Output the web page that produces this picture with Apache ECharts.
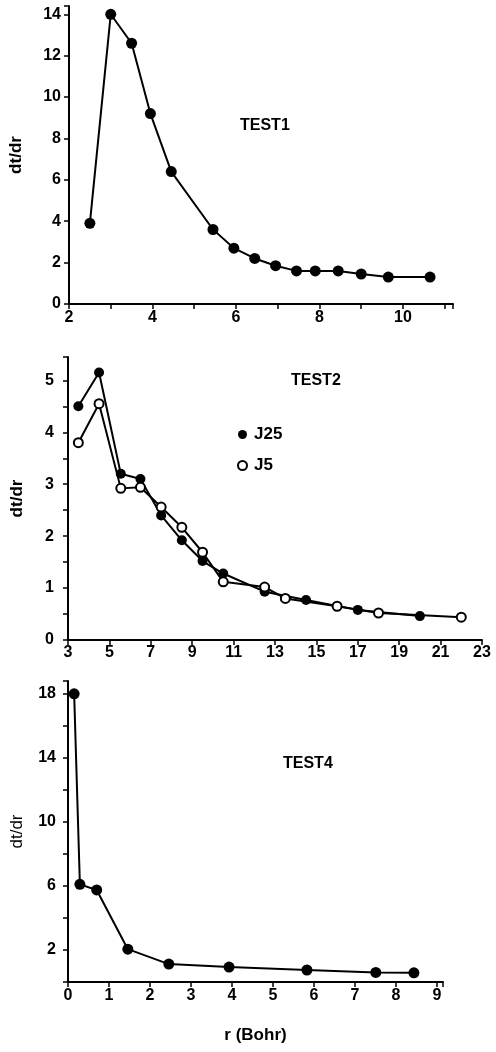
<!DOCTYPE html>
<html><head><meta charset="utf-8">
<script src="https://cdn.jsdelivr.net/npm/echarts@6/dist/echarts.min.js"></script>
<style>html,body{margin:0;padding:0;background:#fff}#c{width:496px;height:1052px}</style>
</head><body><div id="c"></div>
<script>
// TEST1
const test1R = [2.5, 3.0, 3.5, 3.95, 4.45, 5.45, 5.95, 6.45, 6.95, 7.45, 7.9, 8.45, 9.0, 9.65, 10.65];
const test1D = [3.9, 14.0, 12.6, 9.2, 6.4, 3.6, 2.7, 2.2, 1.85, 1.6, 1.6, 1.6, 1.45, 1.3, 1.3];
// TEST2
const j25R = [3.5, 4.5, 5.55, 6.5, 7.5, 8.5, 9.5, 10.5, 12.5, 14.5, 17, 20];
const j25D = [4.5, 5.15, 3.2, 3.1, 2.4, 1.92, 1.52, 1.28, 0.93, 0.77, 0.58, 0.46];
const j5R = [3.5, 4.5, 5.55, 6.5, 7.5, 8.5, 9.5, 10.5, 12.5, 13.5, 16, 18, 22];
const j5D = [3.8, 4.55, 2.92, 2.94, 2.56, 2.17, 1.69, 1.12, 1.02, 0.8, 0.65, 0.52, 0.44];
// TEST4
const test4R = [0.15, 0.29, 0.7, 1.46, 2.46, 3.93, 5.83, 7.51, 8.44];
const test4D = [18.0, 6.1, 5.75, 2.05, 1.12, 0.93, 0.75, 0.6, 0.57];

const panelTitles = ['TEST1', 'TEST2', 'TEST4'];
const seriesNames = ['J25', 'J5'];
const yName = 'dt/dr';
const xName = 'r (Bohr)';

const pairs = (xs, ys) => xs.map((x, i) => [x, ys[i]]);
const FONT = 'Liberation Sans, Arial, sans-serif';
const lbl = {color: '#000', fontFamily: FONT, fontWeight: 'bold', fontSize: 16};
const isInt = v => Math.abs(v - Math.round(v)) < 1e-6;

function axisBase(extra) {
  return Object.assign({
    type: 'value',
    axisLine: {show: true, onZero: false, lineStyle: {color: '#000', width: 2}},
    axisTick: {show: true, inside: false, length: 5, lineStyle: {color: '#000', width: 1.5}},
    splitLine: {show: false},
  }, extra);
}

const chart = echarts.init(document.getElementById('c'));
chart.setOption({
  backgroundColor: '#fff',
  animation: false,
  grid: [
    {left: 68, right: 43, top: 6, bottom: 748},
    {left: 68, right: 14, top: 357, bottom: 412},
    {left: 68, right: 53, top: 681, bottom: 70}
  ],
  xAxis: [
    axisBase({gridIndex: 0, min: 2, max: 11.2, interval: 1,
      axisLabel: Object.assign({}, lbl, {margin: 6, formatter: v => (isInt(v) && Math.round(v) % 2 === 0) ? String(Math.round(v)) : ''})}),
    axisBase({gridIndex: 1, min: 3, max: 23, interval: 2,
      axisLabel: Object.assign({}, lbl, {margin: 5, formatter: v => isInt(v) ? String(Math.round(v)) : ''})}),
    axisBase({gridIndex: 2, min: 0, max: 9.15, interval: 1,
      name: xName, nameLocation: 'middle', nameGap: 45,
      nameTextStyle: {color: '#000', fontFamily: FONT, fontWeight: 'bold', fontSize: 17},
      axisLabel: Object.assign({}, lbl, {margin: 6, formatter: v => isInt(v) ? String(Math.round(v)) : ''})})
  ],
  yAxis: [
    axisBase({gridIndex: 0, min: 0, max: 14.4, interval: 2,
      name: yName, nameLocation: 'middle', nameRotate: 90, nameGap: 44,
      nameTextStyle: {color: '#000', fontFamily: FONT, fontWeight: 'bold', fontSize: 17},
      axisLabel: Object.assign({}, lbl, {margin: 8, formatter: v => (isInt(v) && Math.round(v) % 2 === 0) ? String(Math.round(v)) : ''})}),
    axisBase({gridIndex: 1, min: 0, max: 5.45, interval: 0.5,
      name: yName, nameLocation: 'middle', nameRotate: 90, nameGap: 42,
      nameTextStyle: {color: '#000', fontFamily: FONT, fontWeight: 'bold', fontSize: 17},
      axisLabel: Object.assign({}, lbl, {margin: 14, formatter: v => isInt(v) ? String(Math.round(v)) : ''})}),
    axisBase({gridIndex: 2, min: 0, max: 18.8, interval: 2,
      name: yName, nameLocation: 'middle', nameRotate: 90, nameGap: 42,
      nameTextStyle: {color: '#000', fontFamily: FONT, fontWeight: 'normal', fontSize: 17},
      axisLabel: Object.assign({}, lbl, {margin: 12, formatter: v => (isInt(v) && Math.round(v) % 4 === 2) ? String(Math.round(v)) : ''})})
  ],
  legend: {
    orient: 'vertical', left: 232, top: 421, itemGap: 14, itemWidth: 9, itemHeight: 9,
    data: [
      {name: seriesNames[0], icon: 'circle', itemStyle: {color: '#000'}},
      {name: seriesNames[1], icon: 'circle', itemStyle: {color: '#fff', borderColor: '#000', borderWidth: 2}}
    ],
    textStyle: {color: '#000', fontFamily: FONT, fontWeight: 'bold', fontSize: 17, padding: [0, 0, 0, 2]}
  },
  graphic: [
    {type: 'text', left: 240, top: 118, style: {text: panelTitles[0], fill: '#000', font: 'bold 16px ' + FONT}},
    {type: 'text', left: 291, top: 373, style: {text: panelTitles[1], fill: '#000', font: 'bold 16px ' + FONT}},
    {type: 'text', left: 283, top: 756, style: {text: panelTitles[2], fill: '#000', font: 'bold 16px ' + FONT}}
  ],
  series: [
    {type: 'line', xAxisIndex: 0, yAxisIndex: 0, data: pairs(test1R, test1D), symbol: 'circle', symbolSize: 11,
      lineStyle: {color: '#000', width: 2}, itemStyle: {color: '#000'}},
    {name: seriesNames[0], type: 'line', xAxisIndex: 1, yAxisIndex: 1, data: pairs(j25R, j25D), symbol: 'circle', symbolSize: 10,
      lineStyle: {color: '#000', width: 2}, itemStyle: {color: '#000'}},
    {name: seriesNames[1], type: 'line', xAxisIndex: 1, yAxisIndex: 1, data: pairs(j5R, j5D), symbol: 'circle', symbolSize: 9,
      lineStyle: {color: '#000', width: 2}, itemStyle: {color: '#fff', borderColor: '#000', borderWidth: 2}},
    {type: 'line', xAxisIndex: 2, yAxisIndex: 2, data: pairs(test4R, test4D), symbol: 'circle', symbolSize: 11,
      lineStyle: {color: '#000', width: 2}, itemStyle: {color: '#000'}}
  ]
});
</script></body></html>
